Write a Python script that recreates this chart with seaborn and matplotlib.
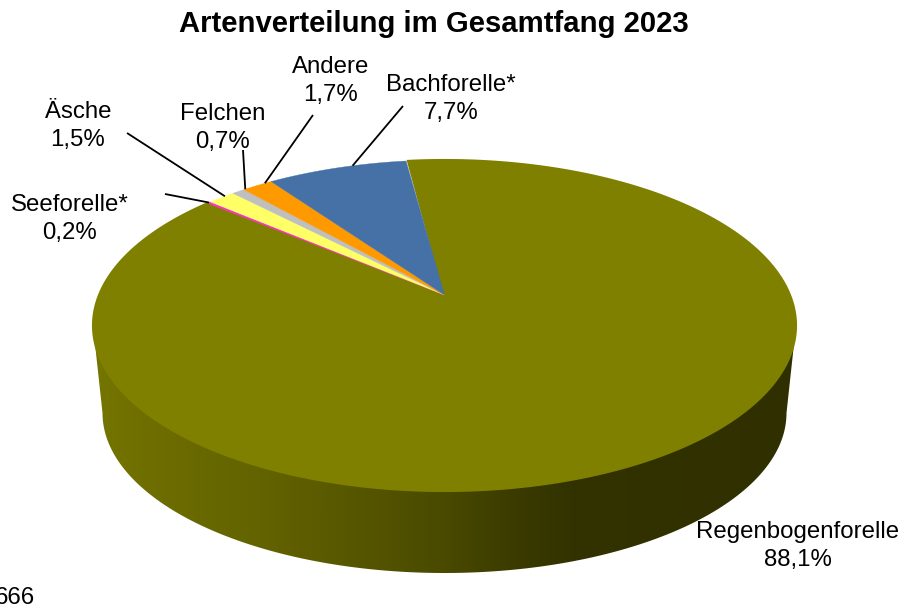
import numpy as np
import matplotlib
matplotlib.use("Agg")
import matplotlib.pyplot as plt
from matplotlib.colors import LinearSegmentedColormap
from matplotlib.patches import Polygon
import seaborn as sns

# Anteile in Prozent, im Uhrzeigersinn ab Regenbogenforelle
species = ["Regenbogenforelle", "Seeforelle*", "Äsche", "Felchen", "Andere", "Bachforelle*"]
shares = [88.1, 0.2, 1.5, 0.7, 1.7, 7.7]
share_labels = ["88,1%", "0,2%", "1,5%", "0,7%", "1,7%", "7,7%"]
colors = ["#808000", "#FF33CC", "#FFFF66", "#BFBFBF", "#FF9900", "#4571A6"]
title = "Artenverteilung im Gesamtfang 2023"

# Layout in Pixeln (Label-Mitte und Anfang der Fuehrungslinie)
label_pos = [(798, 546), (70, 219), (78, 126), (223, 128), (331, 81), (451, 99)]
line_start = [None, (165, 194), (127, 133), (243, 150), (313, 115), (403, 106)]
# Versatz des Linienendes gegenueber der Segmentmitte, in Grad
line_shift = [0, 0, 0.8, 1.6, 1.7, 3.2]

# Deckel-Ellipse, Boden-Ellipse, perspektivisch verschobene Mitte
cx, cy, a, b = 444.5, 325.5, 351.5, 165.5
bx, by, ba, bb = 444.5, 413.0, 342.0, 160.0
apex_y = 295.0
start_deg = -7.2

d = (cy - apex_y) / b


def rim_point(clock_deg):
    # Punkt auf dem Kreis, projektiv auf die Deckel-Ellipse abgebildet
    t = np.radians(clock_deg)
    X, Y = np.sin(t), np.cos(t)
    x = X * np.sqrt(1 - d ** 2) / (1 + d * Y)
    y = (Y + d) / (1 + d * Y)
    return cx + a * x, cy - b * y


def main():
    sns.set_theme(style="white")
    plt.rcParams["font.family"] = ["Liberation Sans", "DejaVu Sans"]
    palette = sns.color_palette(colors)

    fig = plt.figure(figsize=(9.03, 6.09), dpi=100)
    ax = fig.add_axes([0, 0, 1, 1])
    ax.set_xlim(0, 903)
    ax.set_ylim(609, 0)
    ax.axis("off")

    # Seitenwand mit Verlauf
    t = np.linspace(0, np.pi, 200)
    top_x, top_y = cx + a * np.cos(t), cy + b * np.sin(t)
    bot_x, bot_y = bx + ba * np.cos(t), by + bb * np.sin(t)
    wall_pts = np.r_[np.c_[top_x, top_y], np.c_[bot_x, bot_y][::-1]]
    wall = Polygon(wall_pts, closed=True, fc="none", ec="none")
    ax.add_patch(wall)
    cmap = LinearSegmentedColormap.from_list(
        "wand",
        [(0.0, "#757500"), (0.1, "#6C6C00"), (0.25, "#626200"), (0.5, "#4A4A00"),
         (0.62, "#383800"), (0.68, "#333300"), (1.0, "#2F2F00")],
    )
    img = ax.imshow(np.linspace(0, 1, 512)[None, :], cmap=cmap, aspect="auto",
                    extent=(cx - a, cx + a, 609, 0), zorder=1)
    img.set_clip_path(wall)
    ax.set_xlim(0, 903)
    ax.set_ylim(609, 0)

    # Deckel: erst die grosse Flaeche mit Kante, dann die kleinen Segmente darueber
    angle = start_deg
    mids = []
    for i, (share, col) in enumerate(zip(shares, palette)):
        sweep = share / 100 * 360
        arc = np.linspace(angle, angle + sweep, max(int(sweep * 2), 3))
        pts = [(cx, apex_y)] + [rim_point(v) for v in arc]
        lw = 1.5 if i == 0 else 0.25
        ax.add_patch(Polygon(pts, closed=True, fc=col, ec=col, lw=lw, zorder=2))
        mids.append(angle + sweep / 2)
        angle += sweep

    # Beschriftung und Fuehrungslinien
    for i in range(len(species)):
        ax.text(label_pos[i][0], label_pos[i][1], species[i] + "\n" + share_labels[i],
                ha="center", va="center", fontsize=17.3, color="black",
                linespacing=1.34, zorder=4)
        if line_start[i] is not None:
            end = rim_point(mids[i] + line_shift[i])
            ax.plot([line_start[i][0], end[0]], [line_start[i][1], end[1]],
                    color="black", lw=1.3, zorder=3, solid_capstyle="butt")

    ax.text(434, 24, title, ha="center", va="center", fontsize=21.05,
            fontweight="bold", color="black")
    ax.text(35, 598, "666", ha="right", va="center", fontsize=17.3, color="black")

    fig.savefig("out.png", dpi=100)


if __name__ == "__main__":
    main()
